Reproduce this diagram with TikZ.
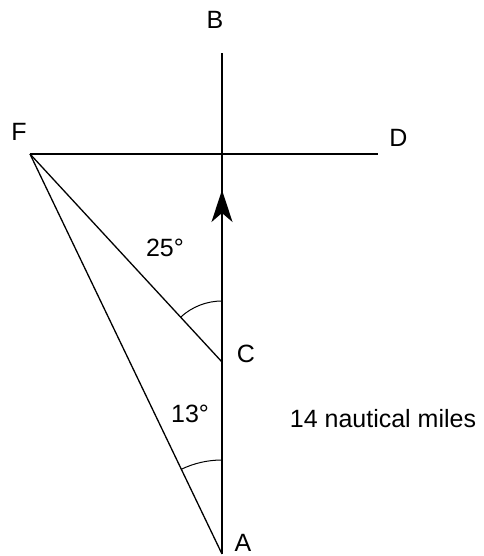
\documentclass[tikz,border=0pt]{standalone}
\usepackage{fontspec}
\setmainfont{Liberation Sans}
\usepackage{tikz}
\usetikzlibrary{
  arrows.meta,
  positioning,
  calc
}
\definecolor{navInk}{HTML}{000000}
\tikzset{
  navlabel/.style={font=\fontsize{25}{30}\selectfont, inner sep=0pt, text=navInk},
  navangle/.style={font=\fontsize{25}{30}\selectfont, inner sep=0pt, text=navInk},
  track/.style={line width=1.6pt, navInk},
  bearing/.style={line width=1.3pt, navInk},
  anglearc/.style={line width=1pt, navInk},
  heading/.style={line width=1.6pt, navInk, -{Stealth[length=32pt, width=21pt, inset=9pt]}}
}

\begin{document}
\begin{tikzpicture}[x=1pt, y=1pt]
  \useasboundingbox (0,0) rectangle (483,556);
  % points of the course
  \coordinate (A) at (222,2);
  \coordinate (C) at (222,194);
  \coordinate (B) at (222,503);
  \coordinate (F) at (30,402);
  \coordinate (D) at (378,402);
  \coordinate (T) at (222,366);
  % labels
  \node[navlabel] (lA) at (243,13) {A};
  \node[navlabel] (lB) at (215,536) {B};
  \node[navlabel] (lC) at (246,202) {C};
  \node[navlabel] (lD) at (398.5,418.5) {D};
  \node[navlabel] (lF) at (19,424) {F};
  \node[navangle] (a25) at (165,308) {25°};
  \node[navangle] (a13) at (190,142) {13°};
  \node[navlabel] (dist) at (383,137) {14 nautical miles};
  % lines
  \draw[track] (A) -- (B);
  \draw[track] (F) -- (D);
  \draw[bearing] (F) -- (C);
  \draw[bearing] (F) -- (A);
  \draw[heading] (C) -- (T);
  % angles
  \draw[anglearc] ($(C)+(0,61)$) arc[start angle=90, end angle=132.7, radius=61];
  \draw[anglearc] ($(A)+(0,94)$) arc[start angle=90, end angle=115.6, radius=94];
\end{tikzpicture}
\end{document}
